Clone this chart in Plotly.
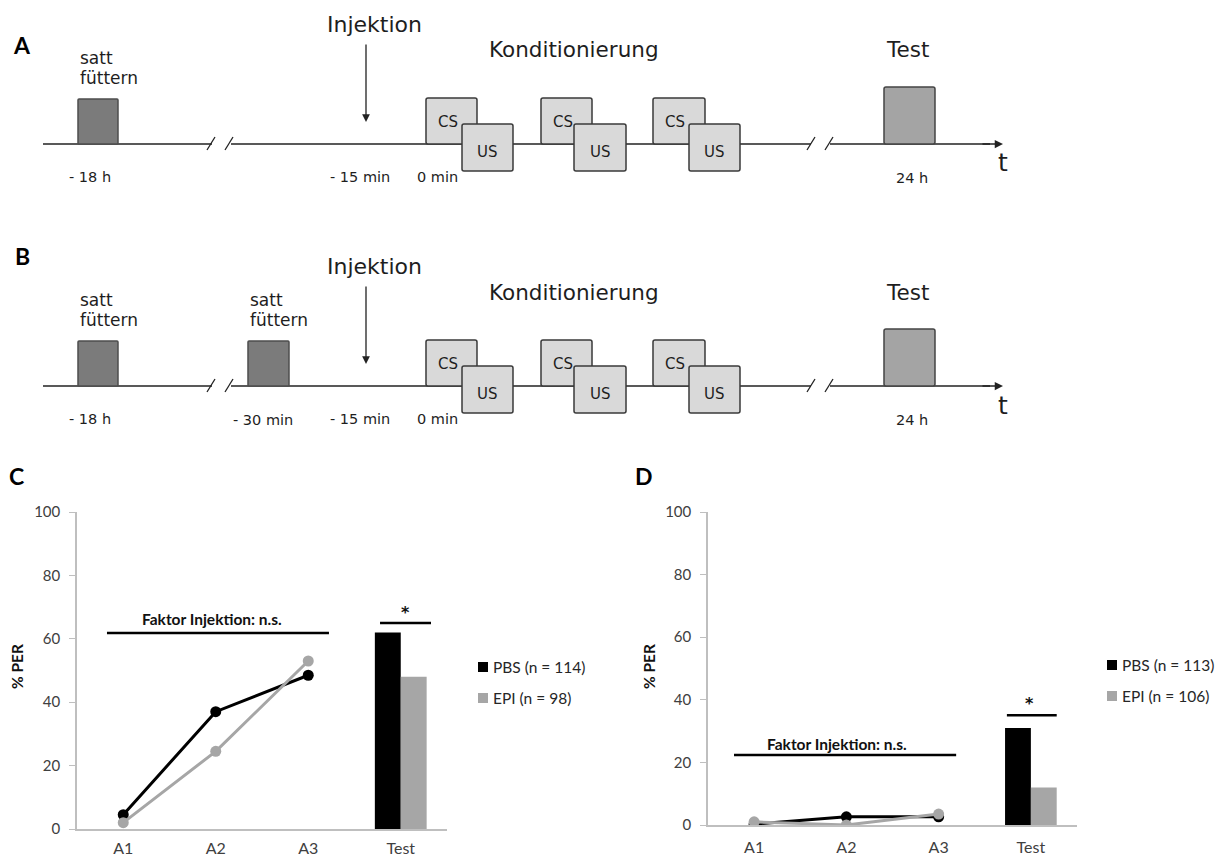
import plotly.graph_objects as go

W, H = 1223, 859

# ---- data -------------------------------------------------------------
categories = ["A1", "A2", "A3", "Test"]
trials = ["A1", "A2", "A3"]
test_cat = ["Test"]

c_pbs_trials = [4.5, 37.0, 48.5]
c_epi_trials = [2.0, 24.5, 53.0]
c_pbs_test = [62.0]
c_epi_test = [48.0]

d_pbs_trials = [0.3, 2.6, 2.6]
d_epi_trials = [1.0, 0.0, 3.5]
d_pbs_test = [31.0]
d_epi_test = [12.0]

c_legend = ["PBS (n = 114)", "EPI (n = 98)"]
d_legend = ["PBS (n = 113)", "EPI (n = 106)"]

y_ticks = [0, 20, 40, 60, 80, 100]

PBS_COLOR = "#000000"
EPI_COLOR = "#a6a6a6"
AXIS_COLOR = "#bfbfbf"
TICK_FONT = dict(family="Lato", size=15, color="#404040")
DIAG_FONT = "DejaVu Sans"
DIAG_TEXT = "#1e1e1e"


def X(px):
    return px / W


def Y(py):
    return 1 - py / H


fig = go.Figure()

# ---- panels C and D: acquisition curves and test bars ------------------
panels = [
    ("x", "y", c_pbs_trials, c_epi_trials, c_pbs_test, c_epi_test),
    ("x2", "y2", d_pbs_trials, d_epi_trials, d_pbs_test, d_epi_test),
]
for xa, ya, pbs_tr, epi_tr, pbs_t, epi_t in panels:
    fig.add_trace(go.Scatter(x=trials, y=pbs_tr, mode="lines+markers",
                             line=dict(color=PBS_COLOR, width=3),
                             marker=dict(size=11, color=PBS_COLOR),
                             xaxis=xa, yaxis=ya, showlegend=False))
    fig.add_trace(go.Scatter(x=trials, y=epi_tr, mode="lines+markers",
                             line=dict(color=EPI_COLOR, width=3),
                             marker=dict(size=11, color=EPI_COLOR),
                             xaxis=xa, yaxis=ya, showlegend=False))
    fig.add_trace(go.Bar(x=test_cat, y=pbs_t, marker=dict(color=PBS_COLOR, line_width=0),
                         xaxis=xa, yaxis=ya, showlegend=False))
    fig.add_trace(go.Bar(x=test_cat, y=epi_t, marker=dict(color=EPI_COLOR, line_width=0),
                         xaxis=xa, yaxis=ya, showlegend=False))

xaxis_common = dict(type="category", categoryorder="array", categoryarray=categories,
                    range=[-0.5, 3.5], showline=True, linecolor=AXIS_COLOR, linewidth=1.5,
                    ticks="", showgrid=False, zeroline=False,
                    tickfont=dict(family="Lato", size=16, color="#404040"),
                    automargin=False, fixedrange=True)
yaxis_common = dict(range=[0, 100], tickvals=y_ticks, ticks="outside", ticklen=6,
                    tickcolor=AXIS_COLOR, tickwidth=1, showline=True, linecolor=AXIS_COLOR,
                    linewidth=1.5, showgrid=False, zeroline=False, tickfont=TICK_FONT,
                    ticklabelstandoff=6, automargin=False, fixedrange=True)

fig.update_layout(
    width=W, height=H,
    margin=dict(l=0, r=0, t=0, b=0, autoexpand=False),
    paper_bgcolor="white", plot_bgcolor="white",
    barmode="group", bargap=0.44, bargroupgap=0,
    showlegend=False,
    xaxis=dict(domain=[X(77), X(447)], anchor="y", ticklabelstandoff=4, **xaxis_common),
    yaxis=dict(domain=[Y(829), Y(512)], anchor="x", **yaxis_common),
    xaxis2=dict(domain=[X(708), X(1077)], anchor="y2", ticklabelstandoff=7, **xaxis_common),
    yaxis2=dict(domain=[Y(825), Y(512)], anchor="x2", **yaxis_common),
)

shapes = []
annotations = []

# significance brackets (category-index x, data y)
sig = [
    ("x", "y", (-0.176, 2.224, 61.8), (0.96, 66.3), (2.776, 3.327, 65.0), (3.05, 68.3)),
    ("x2", "y2", (-0.218, 2.19, 22.4), (0.898, 25.8), (2.74, 3.28, 35.1), (2.99, 38.8)),
]
for xa, ya, (fx0, fx1, fy), (tx, ty), (sx0, sx1, sy), (stx, sty) in sig:
    shapes.append(dict(type="line", xref=xa, yref=ya, x0=fx0, x1=fx1, y0=fy, y1=fy,
                       line=dict(color="black", width=2.5)))
    annotations.append(dict(xref=xa, yref=ya, x=tx, y=ty, text="<b>Faktor Injektion: n.s.</b>",
                            showarrow=False, font=dict(family="Lato", size=15.5, color="#111"),
                            xanchor="center", yanchor="middle"))
    shapes.append(dict(type="line", xref=xa, yref=ya, x0=sx0, x1=sx1, y0=sy, y1=sy,
                       line=dict(color="black", width=2.5)))
    annotations.append(dict(xref=xa, yref=ya, x=stx, y=sty, text="<b>*</b>",
                            showarrow=False, font=dict(family="DejaVu Sans", size=16, color="#111"),
                            xanchor="center", yanchor="middle"))

# legends
for lx, ly, names in [(478, 667, c_legend), (1107, 665, d_legend)]:
    for i, (name, col) in enumerate(zip(names, [PBS_COLOR, EPI_COLOR])):
        yy = ly + i * 31
        shapes.append(dict(type="rect", xref="paper", yref="paper",
                           x0=X(lx), x1=X(lx + 10), y0=Y(yy - 5), y1=Y(yy + 5),
                           fillcolor=col, line_width=0))
        annotations.append(dict(xref="paper", yref="paper", x=X(lx + 13), y=Y(yy), text=name,
                                showarrow=False, xanchor="left", yanchor="middle",
                                font=dict(family="Lato", size=15.5, color="#262626")))

# y-axis titles
for tx in [17, 649]:
    annotations.append(dict(xref="paper", yref="paper", x=X(tx), y=Y(667), text="<b>% PER</b>",
                            textangle=-90, showarrow=False, xanchor="center", yanchor="middle",
                            font=dict(family="Lato", size=15.5, color="#111")))

# panel letters
for letter, lx, ly in [("A", 22, 45), ("B", 22, 256), ("C", 16, 476), ("D", 644, 476)]:
    annotations.append(dict(xref="paper", yref="paper", x=X(lx), y=Y(ly), text="<b>%s</b>" % letter,
                            showarrow=False, xanchor="center", yanchor="middle",
                            font=dict(family="Lato", size=23, color="black")))


# ---- panels A and B: experimental timelines ---------------------------
def rounded_box(x0, x1, y0, y1, fill, edge, r=2.0):
    p = [
        (x0 + r, y0), (x1 - r, y0), (x1, y0), (x1, y0 + r), (x1, y1 - r), (x1, y1),
        (x1 - r, y1), (x0 + r, y1), (x0, y1), (x0, y1 - r), (x0, y0 + r), (x0, y0),
    ]

    def pt(q):
        return "%.5f,%.5f" % (X(q[0]), Y(q[1]))
    path = ("M" + pt(p[0]) + " L" + pt(p[1]) + " Q" + pt(p[2]) + " " + pt(p[3]) +
            " L" + pt(p[4]) + " Q" + pt(p[5]) + " " + pt(p[6]) +
            " L" + pt(p[7]) + " Q" + pt(p[8]) + " " + pt(p[9]) +
            " L" + pt(p[10]) + " Q" + pt(p[11]) + " " + pt(p[0]) + " Z")
    return dict(type="path", xref="paper", yref="paper", path=path,
                fillcolor=fill, line=dict(color=edge, width=1.5))


def seg(x0, y0, x1, y1, w=1.5, col="#222"):
    return dict(type="line", xref="paper", yref="paper", x0=X(x0), y0=Y(y0), x1=X(x1), y1=Y(y1),
                line=dict(color=col, width=w))


def label(x, y, text, size, anchor="center"):
    return dict(xref="paper", yref="paper", x=X(x), y=Y(y), text=text, showarrow=False,
                xanchor=anchor, yanchor="middle", font=dict(family=DIAG_FONT, size=size, color=DIAG_TEXT))


FEED_FILL, FEED_EDGE = "#7b7b7b", "#4d4d4d"
TEST_FILL, TEST_EDGE = "#a4a4a4", "#444444"
STIM_FILL, STIM_EDGE = "#d9d9d9", "#3a3a3a"

cs_boxes = [(426, 477), (541, 592), (653, 705)]
us_boxes = [(462, 513), (574, 626), (689, 740)]


def timeline(dy, second_feed):
    y0 = 144 + dy
    # axis line with two breaks
    for a, b in [(43, 212), (231, 811), (830, 990)]:
        shapes.append(seg(a, y0, b, y0))
    for sx in [207, 225, 807, 825]:
        shapes.append(seg(sx, y0 + 6, sx + 8, y0 - 7, w=1.3))
    annotations.append(dict(xref="paper", yref="paper", x=X(1003), y=Y(y0), ax=-22, ay=0,
                            text="", showarrow=True, arrowhead=2, arrowsize=1.1,
                            arrowwidth=1.5, arrowcolor="#222"))
    # feeding boxes
    shapes.append(rounded_box(78, 118, 99 + dy, y0, FEED_FILL, FEED_EDGE, r=1))
    annotations.append(label(78, 58 + dy, "satt", 17, "left"))
    annotations.append(label(78, 78 + dy, "füttern", 17, "left"))
    annotations.append(label(90, 177 + dy, "- 18 h", 14.5))
    if second_feed:
        shapes.append(rounded_box(248, 289, 99 + dy, y0, FEED_FILL, FEED_EDGE, r=1))
        annotations.append(label(248, 58 + dy, "satt", 17, "left"))
        annotations.append(label(248, 78 + dy, "füttern", 17, "left"))
        annotations.append(label(263, 178 + dy, "- 30 min", 14.5))
    # injection arrow
    annotations.append(label(374, 25 + dy, "Injektion", 22))
    annotations.append(dict(xref="paper", yref="paper", x=X(366), y=Y(122 + dy), ax=0, ay=-79,
                            text="", showarrow=True, arrowhead=2, arrowsize=1.2,
                            arrowwidth=1.3, arrowcolor="#222"))
    annotations.append(label(360, 177 + dy, "- 15 min", 14.5))
    annotations.append(label(437, 177 + dy, "0 min", 14.5))
    # conditioning trials
    annotations.append(label(574, 50 + dy, "Konditionierung", 21.5))
    for (cx0, cx1), (ux0, ux1) in zip(cs_boxes, us_boxes):
        shapes.append(rounded_box(cx0, cx1, 98 + dy, y0, STIM_FILL, STIM_EDGE))
        annotations.append(label(cx0 + 22, 122 + dy, "CS", 15))
        shapes.append(rounded_box(ux0, ux1, 124 + dy, 171 + dy, STIM_FILL, STIM_EDGE))
        annotations.append(label((ux0 + ux1) / 2, 152 + dy, "US", 15))
    # test
    shapes.append(rounded_box(884, 935, 87 + dy, y0, TEST_FILL, TEST_EDGE))
    annotations.append(label(907, 50 + dy, "Test", 21.5))
    annotations.append(label(912, 178 + dy, "24 h", 14.5))
    annotations.append(label(1003, 163 + dy, "t", 25))


timeline(0, False)
timeline(242, True)

fig.update_layout(shapes=shapes, annotations=annotations)
fig.write_html("out.html")
